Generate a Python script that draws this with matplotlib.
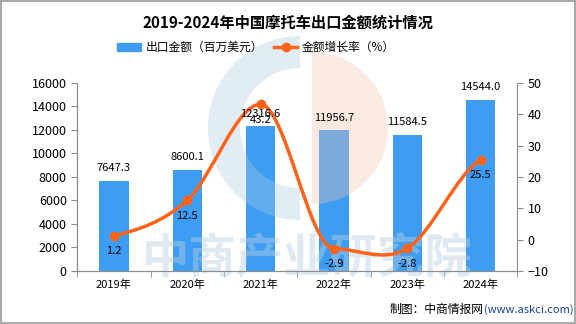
import numpy as np
import matplotlib.pyplot as plt
from matplotlib.path import Path
from matplotlib.patches import PathPatch, Rectangle, Wedge
from matplotlib.lines import Line2D

plt.rcParams['font.family'] = ['Noto Sans CJK SC', 'DejaVu Sans']

years = ['2019年', '2020年', '2021年', '2022年', '2023年', '2024年']
export_value = [7647.3, 8600.1, 12316.6, 11956.7, 11584.5, 14544.0]
growth = [1.2, 12.5, 43.2, -2.9, -2.8, 25.5]

bar_color = '#3d9df2'
line_color = '#ff6319'
grey = '#8c8c8c'

fig = plt.figure(figsize=(5.76, 3.24), dpi=100)
ax = fig.add_axes([0.134, 0.164, 0.764, 0.580])
ax2 = ax.twinx()
ax.set_zorder(1)
ax2.set_zorder(3)

x = np.arange(len(years))
ax.bar(x, export_value, width=0.4, color=bar_color, zorder=2)

ax.set_xlim(-0.5, len(years) - 0.5)
ax.set_ylim(0, 16000)
ax.set_yticks(range(0, 16001, 2000))
ax.set_xticks(x)
ax.set_xticklabels(years, fontsize=8)
ax.set_xticks(np.arange(-0.5, len(years)), minor=True)
ax.tick_params(axis='x', which='major', length=0, pad=6)
ax.tick_params(axis='x', which='minor', length=4, color=grey)
ax.tick_params(axis='y', labelsize=9, length=4, color=grey)

ax2.set_ylim(-10, 50)
ax2.set_yticks(range(-10, 51, 10))
ax2.tick_params(axis='y', labelsize=9, length=4, color=grey)

for a in (ax, ax2):
    a.spines['top'].set_visible(False)
    for s in ('left', 'right', 'bottom'):
        a.spines[s].set_color(grey)
ax.spines['right'].set_visible(False)

# bar value labels (kept on top of the watermark)
for xi, v in zip(x, export_value):
    ax2.text(xi, v + 650, f'{v:.1f}', ha='center', va='bottom', fontsize=8,
             transform=ax.transData, zorder=6)

# smooth curve: cubic segments, flat tangents at local extremes
y = np.array(growth, dtype=float)
n = len(y)
slope = np.zeros(n)
for i in range(n):
    if i == 0:
        slope[i] = (y[1] - y[0]) / 2
    elif i == n - 1:
        slope[i] = (y[-1] - y[-2]) / 2
    elif (y[i] - y[i - 1]) * (y[i + 1] - y[i]) < 0:
        slope[i] = 0.0
    else:
        slope[i] = (y[i + 1] - y[i - 1]) / 2
verts = [(x[0], y[0])]
codes = [Path.MOVETO]
for i in range(n - 1):
    verts += [(x[i] + 1 / 3, y[i] + slope[i] / 3),
              (x[i + 1] - 1 / 3, y[i + 1] - slope[i + 1] / 3),
              (x[i + 1], y[i + 1])]
    codes += [Path.CURVE4] * 3
ax2.add_patch(PathPatch(Path(verts, codes), fill=False, edgecolor=line_color,
                        lw=2.5, zorder=4))
ax2.plot(x, growth, 'o', color=line_color, ms=6, zorder=5)
for xi, g in zip(x, growth):
    ax2.text(xi, g - 3.3, f'{g:.1f}', ha='center', va='top', fontsize=8, zorder=6)

# watermark (logo + name), in pixel coordinates
wm = fig.add_axes([0, 0, 1, 1], zorder=2)
wm.set_xlim(0, 576)
wm.set_ylim(324, 0)
wm.axis('off')
wm.add_patch(Wedge((300, 128), 92, 90, 270, width=32, facecolor='#a9c9de',
                   alpha=0.35, lw=0))
wm.add_patch(Wedge((312, 128), 76, 270, 90, facecolor='#f6c3ab', alpha=0.35,
                   lw=0))
wm.text(307, 258, '中商产业研究院', ha='center', va='center', fontsize=34,
        color='#b6d0e2', alpha=0.45, fontweight='bold')

fig.suptitle('2019-2024年中国摩托车出口金额统计情况', y=0.955, fontsize=11,
             fontweight='bold')

handles = [Rectangle((0, 0), 1, 1, color=bar_color),
           Line2D([], [], color=line_color, lw=2.5, marker='o', ms=6)]
fig.legend(handles, ['出口金额（百万美元）', '金额增长率（%）'], loc='center',
           bbox_to_anchor=(0.445, 0.853), ncol=2, frameon=False, fontsize=8.5,
           handlelength=2.0, handletextpad=0.4, columnspacing=0.9)

fig.text(0.84, 0.045, '制图：中商情报网', ha='right', va='center', fontsize=8.5)
fig.text(0.84, 0.045, '(www.askci.com)', ha='left', va='center', fontsize=8,
         color='#1a3fa0')

fig.patches.append(Rectangle((0.001, 0.002), 0.997, 0.995, transform=fig.transFigure,
                             fill=False, edgecolor='#999999', lw=1.2))

fig.savefig('out.png', dpi=100)
